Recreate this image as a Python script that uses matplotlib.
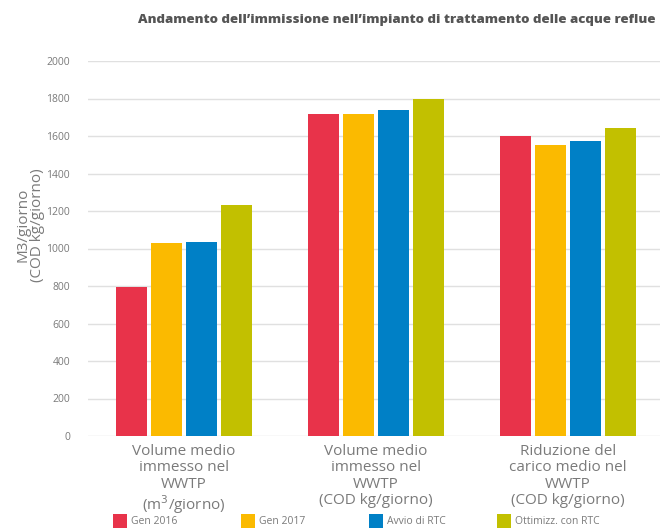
import numpy as np
import matplotlib
matplotlib.use('Agg')
import matplotlib.pyplot as plt

categories = [
    'Volume medio\nimmesso nel\nWWTP\n(m$^3$/giorno)',
    'Volume medio\nimmesso nel\nWWTP\n(COD kg/giorno)',
    'Riduzione del\ncarico medio nel\nWWTP\n(COD kg/giorno)',
]
series = ['Gen 2016', 'Gen 2017', 'Avvio di RTC', 'Ottimizz. con RTC']
gen_2016 = [795, 1717, 1600]
gen_2017 = [1030, 1717, 1552]
avvio_rtc = [1035, 1740, 1573]
ottimizz_rtc = [1230, 1798, 1643]
yticks = [0, 200, 400, 600, 800, 1000, 1200, 1400, 1600, 1800, 2000]

colors = ['#E8334A', '#FBBA00', '#0080C6', '#C2C000']
grey = '#7a7a7a'

plt.rcParams['font.family'] = ['Open Sans', 'DejaVu Sans']

fig = plt.figure(figsize=(6.6, 5.29), dpi=100)
ax = fig.add_axes([88 / 660, 1 - 436 / 529, 576 / 660, 375 / 529])

x = np.arange(len(categories))
width = 0.163
step = 0.182
handles = []
for i, (vals, col) in enumerate(zip([gen_2016, gen_2017, avvio_rtc, ottimizz_rtc], colors)):
    b = ax.bar(x + (i - 1.5) * step, vals, width, color=col, zorder=3)
    handles.append(b)

ax.set_xlim(-0.5, 2.5)
ax.set_ylim(0, 2000)
ax.set_yticks(yticks)
ax.set_yticklabels([str(v) for v in yticks], fontsize=7.5, color=grey)
ax.set_xticks(x)
ax.set_xticklabels(categories, fontsize=11, color=grey, linespacing=1.1)
ax.tick_params(axis='y', length=0, pad=13)
ax.tick_params(axis='x', length=0, pad=6)
ax.grid(axis='y', color='#e0e0e0', linewidth=1, zorder=0)
for s in ax.spines.values():
    s.set_visible(False)

ax.set_ylabel('M3/giorno\n(COD kg/giorno)', fontsize=11, color=grey, linespacing=0.95)
ax.yaxis.set_label_coords(-0.075, 0.563)

fig.text(656 / 660, 1 - 20 / 529, "Andamento dell\u2019immissione nell\u2019impianto di trattamento delle acque reflue",
         ha='right', va='center', fontsize=9.5, fontweight='heavy', color='#555555')

leg_x = [113, 241, 369, 497]
for h, lab, lx in zip(handles, series, leg_x):
    fig.legend([h], [lab], loc='center left', bbox_to_anchor=(lx / 660, 1 - 521 / 529),
               frameon=False, fontsize=7.5, labelcolor=grey, handlelength=1.3, handleheight=1.6,
               handletextpad=0.45, borderpad=0, borderaxespad=0)

fig.savefig('out.png', dpi=100)
